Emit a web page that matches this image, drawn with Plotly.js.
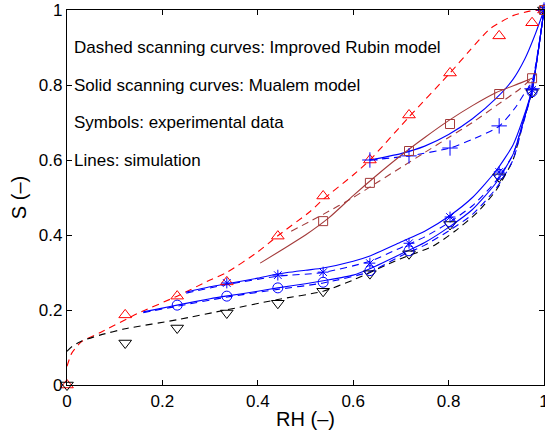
<!DOCTYPE html>
<html>
<head>
<meta charset="utf-8">
<script src="https://cdn.plot.ly/plotly-3.0.1.min.js"></script>
<style>
html, body { margin: 0; padding: 0; background: #fff; }
#chart { width: 545px; height: 436px; }
</style>
</head>
<body>
<div id="chart"></div>
<script>
// ---------- Experimental data (symbols) ----------
const rhObs = [0, 0.122, 0.231, 0.335, 0.442, 0.537, 0.635, 0.717, 0.803, 0.906, 0.975, 1];

const triUpY   = [0, 0.187, 0.237, 0.275, 0.397, 0.504, 0.600, 0.720, 0.832, 0.931, 0.966, 1];
const triDownY = [0, 0.112, 0.152, 0.192, 0.218, 0.250, 0.297, 0.350, 0.428, 0.555, 0.780, 1];

const circleX = [0.231, 0.335, 0.442, 0.537, 0.635, 0.717, 0.803, 0.906, 0.975, 1];
const circleY = [0.213, 0.237, 0.259, 0.274, 0.305, 0.358, 0.435, 0.562, 0.782, 1];

const starX = [0.335, 0.442, 0.537, 0.635, 0.717, 0.803, 0.906, 0.975, 1];
const starY = [0.272, 0.293, 0.301, 0.325, 0.378, 0.448, 0.568, 0.787, 1];

const plusX = [0.635, 0.717, 0.803, 0.906, 0.975, 1];
const plusY = [0.600, 0.611, 0.632, 0.691, 0.790, 1];

const squareX = [0.537, 0.635, 0.717, 0.803, 0.906, 0.975, 1];
const squareY = [0.437, 0.539, 0.624, 0.696, 0.776, 0.818, 1];

// ---------- Simulated curves (lines) ----------
const redDashX = [0, 0.01, 0.03, 0.07, 0.147, 0.231, 0.3, 0.335, 0.4, 0.442, 0.509, 0.537, 0.6, 0.635, 0.717, 0.803, 0.845, 0.887, 0.935, 0.97, 1];
const redDashY = [0.05, 0.085, 0.115, 0.14, 0.19, 0.237, 0.28, 0.30, 0.355, 0.398, 0.462, 0.495, 0.56, 0.6, 0.715, 0.832, 0.893, 0.95, 0.985, 0.997, 1];

const blackDashX = [0, 0.01, 0.03, 0.069, 0.122, 0.231, 0.333, 0.442, 0.537, 0.6, 0.698, 0.767, 0.813, 0.86, 0.9, 0.935, 0.956, 0.975, 1];
const blackDashY = [0.09, 0.102, 0.117, 0.133, 0.15, 0.174, 0.2, 0.228, 0.25, 0.28, 0.336, 0.37, 0.41, 0.46, 0.52, 0.6, 0.7, 0.785, 1];

const blueSolidAX = [0.25, 0.3, 0.335, 0.4, 0.442, 0.5, 0.537, 0.6, 0.635, 0.698, 0.75, 0.803, 0.85, 0.9, 0.935, 0.956, 0.975, 1];
const blueSolidAY = [0.248, 0.262, 0.27, 0.285, 0.296, 0.306, 0.312, 0.33, 0.344, 0.38, 0.41, 0.452, 0.5, 0.572, 0.64, 0.71, 0.79, 1];

const blueDashAX = [0.25, 0.335, 0.442, 0.537, 0.635, 0.698, 0.75, 0.803, 0.85, 0.9, 0.935, 0.956, 0.975, 1];
const blueDashAY = [0.245, 0.268, 0.29, 0.3, 0.33, 0.365, 0.395, 0.435, 0.478, 0.545, 0.615, 0.70, 0.787, 1];

const blueSolidBX = [0.16, 0.2, 0.231, 0.3, 0.333, 0.4, 0.442, 0.5, 0.537, 0.6, 0.635, 0.698, 0.75, 0.803, 0.85, 0.9, 0.935, 0.956, 0.975, 1];
const blueSolidBY = [0.195, 0.205, 0.213, 0.23, 0.237, 0.25, 0.259, 0.27, 0.278, 0.293, 0.31, 0.348, 0.38, 0.423, 0.468, 0.54, 0.615, 0.70, 0.787, 1];

const blueDashBX = [0.16, 0.231, 0.333, 0.442, 0.537, 0.635, 0.698, 0.75, 0.803, 0.85, 0.9, 0.935, 0.956, 0.975, 1];
const blueDashBY = [0.193, 0.21, 0.234, 0.255, 0.272, 0.302, 0.343, 0.373, 0.413, 0.455, 0.525, 0.6, 0.695, 0.785, 1];

const blueSolidCX = [0.635, 0.7, 0.75, 0.8, 0.85, 0.9, 0.935, 0.96, 0.98, 1];
const blueSolidCY = [0.60, 0.617, 0.637, 0.668, 0.71, 0.765, 0.815, 0.87, 0.93, 1];

const blueDashCX = [0.635, 0.717, 0.803, 0.85, 0.906, 0.94, 0.96, 0.975, 1];
const blueDashCY = [0.60, 0.611, 0.632, 0.655, 0.69, 0.74, 0.78, 0.81, 1];

const brownSolidX = [0.405, 0.45, 0.5, 0.55, 0.6, 0.65, 0.7, 0.75, 0.8, 0.85, 0.9, 0.95, 0.975];
const brownSolidY = [0.325, 0.36, 0.40, 0.447, 0.505, 0.56, 0.612, 0.66, 0.705, 0.745, 0.78, 0.805, 0.818];

const brownDashX = [0.47, 0.537, 0.6, 0.65, 0.7, 0.75, 0.8, 0.85, 0.9, 0.95, 0.975];
const brownDashY = [0.41, 0.455, 0.5, 0.54, 0.58, 0.62, 0.66, 0.70, 0.745, 0.79, 0.818];

// ---------- Text ----------
const noteTexts = [
  'Dashed scanning curves: Improved Rubin model',
  'Solid scanning curves: Mualem model',
  'Symbols: experimental data',
  'Lines: simulation'
];
const noteY = [0.9, 0.8, 0.7, 0.6];
const tickVals = [0, 0.2, 0.4, 0.6, 0.8, 1];
const tickText = ['0', '0.2', '0.4', '0.6', '0.8', '1'];

// ---------- Styles ----------
const RED = '#ff0000', BLUE = '#0000ff', BLACK = '#000000', BROWN = '#a33a3a';
const DASH = '7px,5px';
const FONT = 'Liberation Sans, Arial, Helvetica, sans-serif';

function line(x, y, color, dashed) {
  return {
    x: x, y: y, type: 'scatter', mode: 'lines', hoverinfo: 'skip',
    line: { color: color, width: 1.1, dash: dashed ? DASH : 'solid', shape: 'spline', smoothing: 0.6 }
  };
}
function pts(x, y, symbol, color, size) {
  return {
    x: x, y: y, type: 'scatter', mode: 'markers', cliponaxis: false,
    marker: { symbol: symbol, size: size, color: color, line: { color: color, width: 1 } }
  };
}

const data = [
  line(redDashX, redDashY, RED, true),
  line(blackDashX, blackDashY, BLACK, true),
  line(blueSolidAX, blueSolidAY, BLUE, false),
  line(blueDashAX, blueDashAY, BLUE, true),
  line(blueSolidBX, blueSolidBY, BLUE, false),
  line(blueDashBX, blueDashBY, BLUE, true),
  line(blueSolidCX, blueSolidCY, BLUE, false),
  line(blueDashCX, blueDashCY, BLUE, true),
  line(brownSolidX, brownSolidY, BROWN, false),
  line(brownDashX, brownDashY, BROWN, true),
  pts(rhObs, triUpY, 'triangle-up-open', RED, 11),
  pts(rhObs, triDownY, 'triangle-down-open', BLACK, 11),
  pts(circleX, circleY, 'circle-open', BLUE, 10),
  pts(starX, starY, 'asterisk-open', BLUE, 9),
  pts(plusX, plusY, 'cross-thin-open', BLUE, 11),
  pts(squareX, squareY, 'square-open', BROWN, 9)
];

const axisCommon = {
  range: [0, 1], tickvals: tickVals, ticktext: tickText,
  ticks: 'inside', ticklen: 5, tickwidth: 1, tickcolor: '#000',
  showline: true, linecolor: '#000', linewidth: 1.2, mirror: 'ticks',
  showgrid: false, zeroline: false, automargin: false,
  ticklabeloverflow: 'allow',
  tickfont: { family: FONT, size: 17, color: '#000' }
};

const layout = {
  width: 545, height: 436,
  margin: { l: 67, r: 1, t: 10, b: 51 },
  paper_bgcolor: '#fff', plot_bgcolor: '#fff',
  showlegend: false,
  font: { family: FONT, color: '#000' },
  xaxis: Object.assign({}, axisCommon, {
    title: { text: 'RH (–)', font: { family: FONT, size: 20, color: '#000' }, standoff: 2 }
  }),
  yaxis: Object.assign({}, axisCommon, {
    title: { text: 'S (–)', font: { family: FONT, size: 20, color: '#000' }, standoff: 6 }
  }),
  annotations: noteTexts.map((t, i) => ({
    text: t, x: 0.01, y: noteY[i], xref: 'x', yref: 'y',
    xanchor: 'left', yanchor: 'middle', showarrow: false,
    font: { family: FONT, size: 17, color: '#000' }
  }))
};

Plotly.newPlot('chart', data, layout, { displayModeBar: false, staticPlot: true });
</script>
</body>
</html>
